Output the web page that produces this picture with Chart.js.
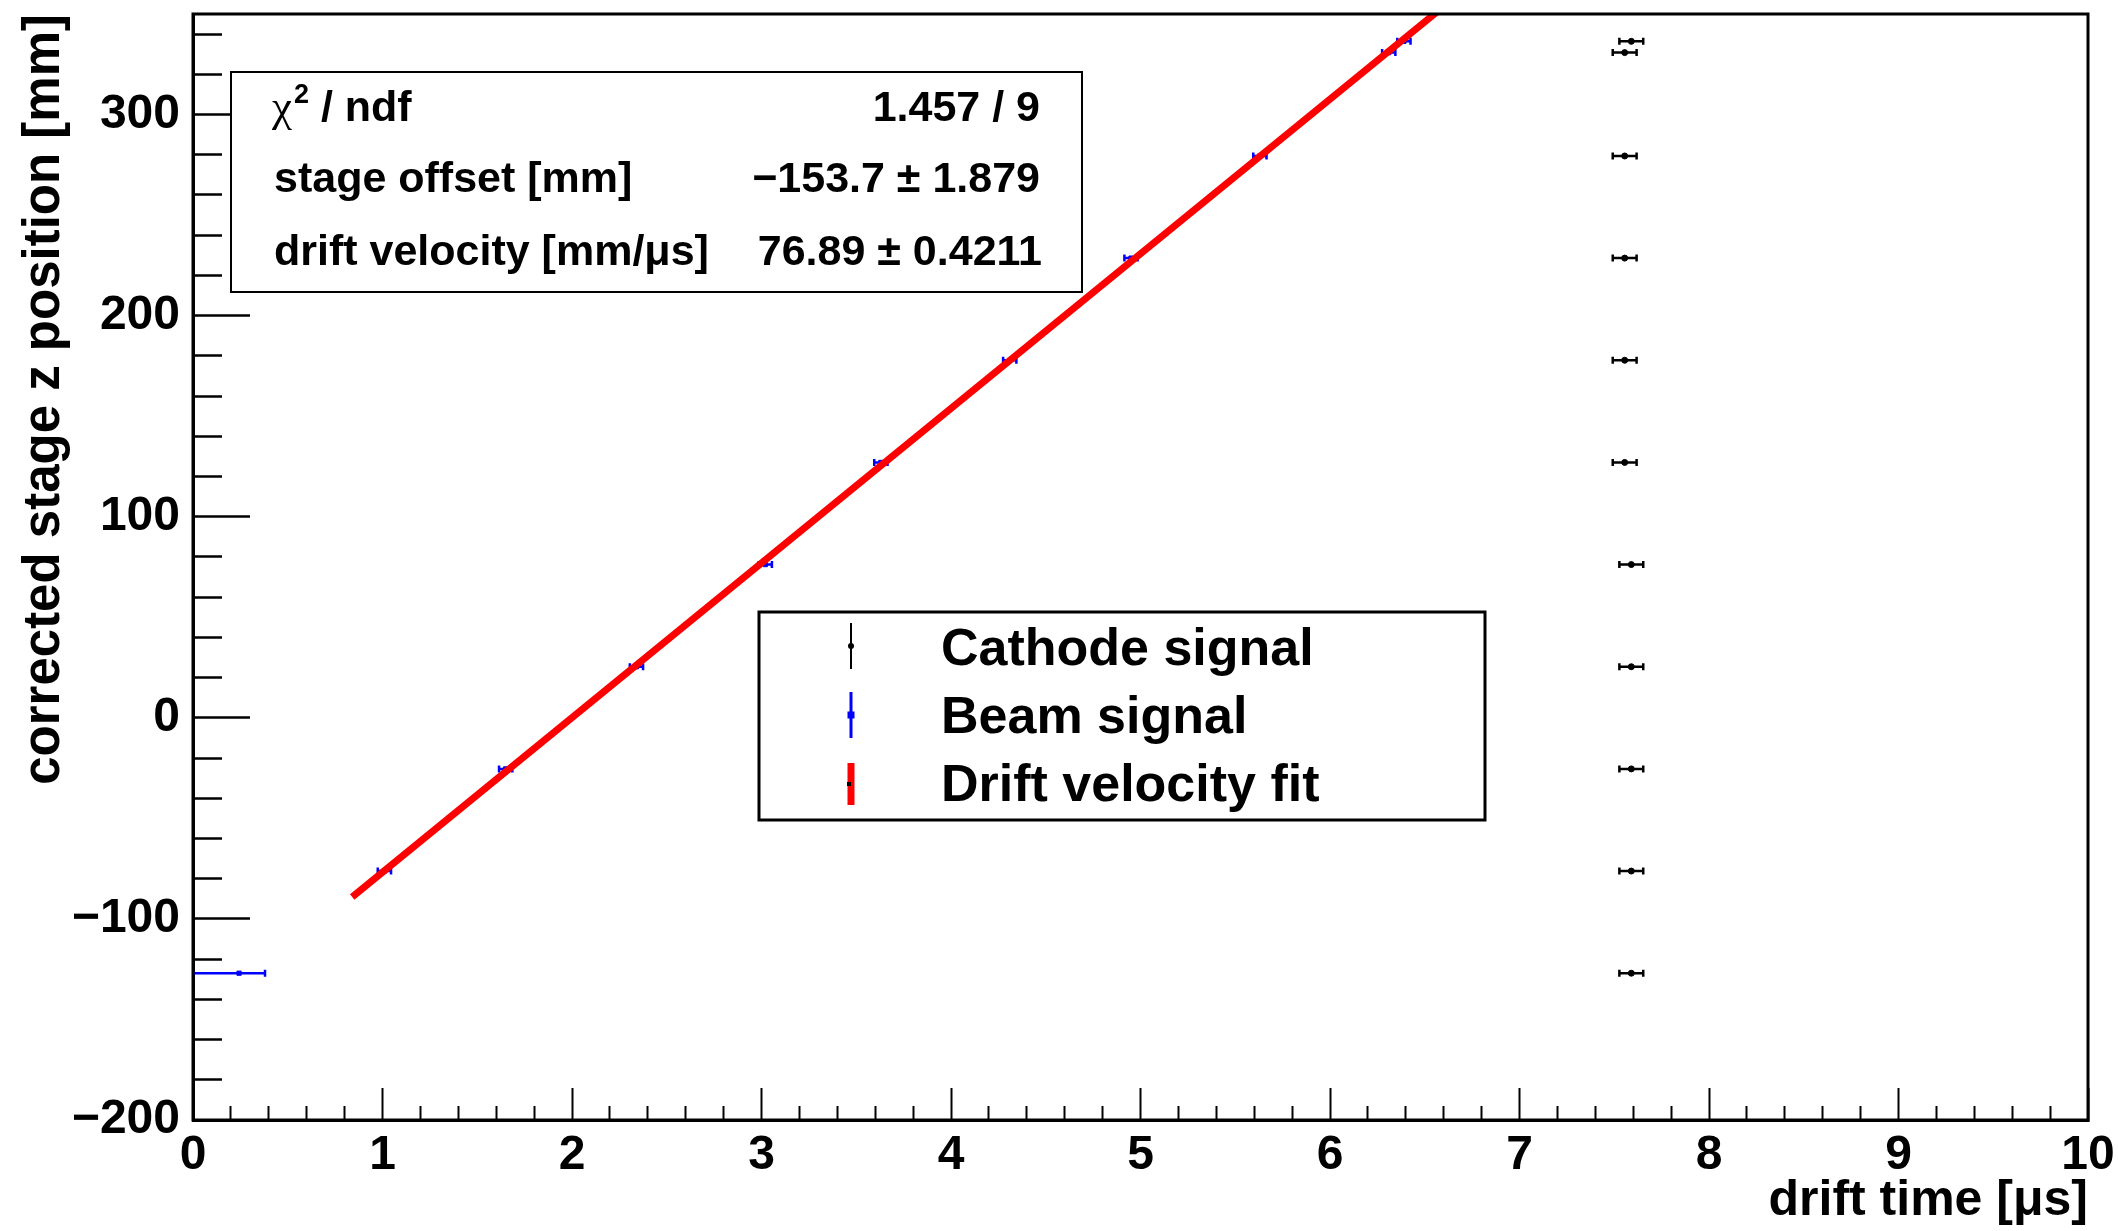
<!DOCTYPE html>
<html>
<head>
<meta charset="utf-8">
<title>Drift velocity</title>
<script src="https://cdn.jsdelivr.net/npm/chart.js@4.4.1/dist/chart.umd.min.js"></script>
<style>
  html, body { margin: 0; padding: 0; background: #fff; }
</style>
</head>
<body>
<canvas id="driftChart" width="2118" height="1231"></canvas>
<script>
// Stage positions of the scan [mm] (same for both signals)
const stagePos = [-127.0, -76.2, -25.4, 25.4, 76.2, 127.0, 177.8, 228.6, 279.4, 330.8, 336.4];
const stagePosErr = [0.5, 0.5, 0.5, 0.5, 0.5, 0.5, 0.5, 0.5, 0.5, 0.5, 0.5];

// Beam signal arrival times [us]
const beamTime = [0.243, 1.01, 1.65, 2.34, 3.02, 3.63, 4.31, 4.95, 5.63, 6.31, 6.39];
const beamTimeErrLo = [0.243, 0.035, 0.035, 0.035, 0.035, 0.035, 0.035, 0.035, 0.035, 0.035, 0.035];
const beamTimeErrHi = [0.137, 0.035, 0.035, 0.035, 0.035, 0.035, 0.035, 0.035, 0.035, 0.035, 0.035];

// Cathode signal arrival times [us]
const cathodeTime = [7.59, 7.59, 7.59, 7.59, 7.59, 7.555, 7.555, 7.555, 7.555, 7.555, 7.59];
const cathodeTimeErr = [0.063, 0.063, 0.063, 0.063, 0.063, 0.063, 0.063, 0.063, 0.063, 0.063, 0.063];

// Linear fit result
const fitRange = [0.84, 6.58];
const stageOffset = -153.7;
const stageOffsetErr = 1.879;
const driftVelocity = 76.89;
const driftVelocityErr = 0.4211;
const chi2 = 1.457;
const ndf = 9;

// Axis ticks
const xTickValues = [];
for (let k = 0; k <= 50; k++) xTickValues.push(k / 5);
const yTickValues = [];
for (let k = -10; k <= 17; k++) yTickValues.push(k * 20);

const isXMajor = v => Math.abs(v - Math.round(v)) < 1e-6;
const isYMajor = v => Math.abs(v % 100) < 1e-6;
const minus = s => s.replace('-', '\u2212');

Chart.defaults.font.family = "'Liberation Sans', Arial, sans-serif";
Chart.defaults.font.weight = 'bold';
Chart.defaults.color = '#000';

// horizontal / vertical error bars with small end caps
const errorBars = {
    id: 'errorBars',
    beforeDatasetsDraw(chart) {
        const { ctx, chartArea: a, scales: { x, y } } = chart;
        ctx.save();
        ctx.beginPath();
        ctx.rect(a.left, a.top, a.right - a.left, a.bottom - a.top);
        ctx.clip();
        chart.data.datasets.forEach(ds => {
            if (!ds.errors) return;
            ctx.strokeStyle = ds.borderColor;
            ctx.lineWidth = 2.5;
            ds.data.forEach((p, i) => {
                const e = ds.errors[i];
                const px = x.getPixelForValue(p.x);
                const py = y.getPixelForValue(p.y);
                const xl = x.getPixelForValue(p.x - e.xlo);
                const xh = x.getPixelForValue(p.x + e.xhi);
                const yl = y.getPixelForValue(p.y - e.y);
                const yh = y.getPixelForValue(p.y + e.y);
                ctx.beginPath();
                ctx.moveTo(xl, py); ctx.lineTo(xh, py);
                ctx.moveTo(px, yl); ctx.lineTo(px, yh);
                ctx.stroke();
                // caps
                ctx.beginPath();
                ctx.moveTo(xl, py - 3.5); ctx.lineTo(xl, py + 3.5);
                ctx.moveTo(xh, py - 3.5); ctx.lineTo(xh, py + 3.5);
                ctx.stroke();
            });
        });
        ctx.restore();
    }
};

// frame, fit statistics box and legend
const overlay = {
    id: 'overlay',
    afterDraw(chart) {
        const { ctx, chartArea: a } = chart;
        ctx.save();
        ctx.strokeStyle = '#000';
        ctx.lineWidth = 3;
        ctx.strokeRect(a.left, a.top, a.right - a.left, a.bottom - a.top);

        // stats box
        ctx.fillStyle = '#fff';
        ctx.fillRect(231, 72, 851, 220);
        ctx.lineWidth = 2;
        ctx.strokeRect(231, 72, 851, 220);
        ctx.fillStyle = '#000';
        ctx.textBaseline = 'alphabetic';
        const sans = "bold 43px 'Liberation Sans', Arial, sans-serif";
        const rows = [121, 192, 265];
        ctx.textAlign = 'left';
        ctx.font = "45px 'Liberation Serif', serif";
        ctx.fillText('\u03c7', 272, rows[0]);
        let w = ctx.measureText('\u03c7').width;
        ctx.font = "bold 27px 'Liberation Sans', Arial, sans-serif";
        ctx.fillText('2', 274 + w, rows[0] - 18);
        w += ctx.measureText('2').width;
        ctx.font = sans;
        ctx.fillText(' / ndf', 274 + w, rows[0]);
        ctx.fillText('stage offset [mm]', 274, rows[1]);
        ctx.fillText('drift velocity [mm/\u03bcs]', 274, rows[2]);
        ctx.textAlign = 'right';
        ctx.fillText(chi2.toFixed(3) + ' / ' + ndf, 1040, rows[0]);
        ctx.fillText(minus(stageOffset.toFixed(1)) + ' \u00b1 ' + stageOffsetErr.toFixed(3), 1040, rows[1]);
        ctx.fillText(driftVelocity.toFixed(2) + ' \u00b1 ' + driftVelocityErr.toFixed(4), 1042, rows[2]);

        // legend
        ctx.fillStyle = '#fff';
        ctx.fillRect(759, 612, 726, 208);
        ctx.lineWidth = 3;
        ctx.strokeRect(759, 612, 726, 208);
        const ds = chart.data.datasets;
        const mx = 851;
        // cathode marker
        ctx.strokeStyle = '#000';
        ctx.lineWidth = 2;
        ctx.beginPath(); ctx.moveTo(mx, 623); ctx.lineTo(mx, 669); ctx.stroke();
        ctx.fillStyle = '#000';
        ctx.beginPath(); ctx.arc(mx, 646, 3, 0, Math.PI * 2); ctx.fill();
        // beam marker
        ctx.strokeStyle = '#0000ff';
        ctx.lineWidth = 3;
        ctx.beginPath(); ctx.moveTo(mx, 692); ctx.lineTo(mx, 738); ctx.stroke();
        ctx.fillStyle = '#0000ff';
        ctx.fillRect(mx - 3.5, 711.5, 7, 7);
        // fit marker
        ctx.strokeStyle = '#ff0000';
        ctx.lineWidth = 7;
        ctx.beginPath(); ctx.moveTo(mx, 763); ctx.lineTo(mx, 805); ctx.stroke();
        ctx.fillStyle = '#000';
        ctx.fillRect(mx - 4, 782, 4, 4);

        ctx.fillStyle = '#000';
        ctx.textAlign = 'left';
        ctx.font = "bold 52px 'Liberation Sans', Arial, sans-serif";
        ctx.fillText(ds[0].label, 941, 665);
        ctx.fillText(ds[1].label, 941, 733);
        ctx.fillText(ds[2].label, 941, 801);
        ctx.restore();
    }
};

const cathodePoints = cathodeTime.map((t, i) => ({ x: t, y: stagePos[i] }));
const beamPoints = beamTime.map((t, i) => ({ x: t, y: stagePos[i] }));
const fitPoints = fitRange.map(t => ({ x: t, y: stageOffset + driftVelocity * t }));

const ctx = document.getElementById('driftChart').getContext('2d');
const driftChart = new Chart(ctx, {
    type: 'scatter',
    data: {
        datasets: [
            {
                label: 'Cathode signal',
                data: cathodePoints,
                errors: cathodeTime.map((t, i) => ({ xlo: cathodeTimeErr[i], xhi: cathodeTimeErr[i], y: stagePosErr[i] })),
                borderColor: '#000000',
                backgroundColor: '#000000',
                pointRadius: 3,
                order: 2
            },
            {
                label: 'Beam signal',
                data: beamPoints,
                errors: beamTime.map((t, i) => ({ xlo: beamTimeErrLo[i], xhi: beamTimeErrHi[i], y: stagePosErr[i] })),
                borderColor: '#0000ff',
                backgroundColor: '#0000ff',
                pointStyle: 'rect',
                pointRadius: 3,
                order: 1
            },
            {
                label: 'Drift velocity fit',
                data: fitPoints,
                showLine: true,
                borderColor: '#ff0000',
                backgroundColor: '#ff0000',
                borderWidth: 7,
                pointRadius: 0,
                clip: 0,
                order: 0
            }
        ]
    },
    options: {
        responsive: false,
        animation: false,
        events: [],
        layout: { padding: { top: 14, right: 30, left: 0, bottom: 0 } },
        plugins: {
            legend: { display: false },
            tooltip: { enabled: false }
        },
        scales: {
            x: {
                type: 'linear',
                min: 0,
                max: 10,
                afterBuildTicks: s => { s.ticks = xTickValues.map(v => ({ value: v })); },
                afterFit: s => {
                    s.height = 111;
                    s.paddingLeft = 0;
                    s.paddingRight = 0;
                },
                border: { display: true, color: '#000', width: 3 },
                grid: {
                    drawOnChartArea: false,
                    drawTicks: true,
                    tickLength: -32,
                    tickColor: '#000',
                    tickWidth: 2,
                    tickBorderDash: c => (c.tick && isXMajor(c.tick.value)) ? [] : [16, 100]
                },
                ticks: {
                    autoSkip: false,
                    maxRotation: 0,
                    padding: 39,
                    font: { size: 48, weight: 'bold' },
                    callback: v => isXMajor(v) ? String(Math.round(v)) : ''
                },
                title: {
                    display: true,
                    text: 'drift time [\u03bcs]',
                    align: 'end',
                    font: { size: 50, weight: 'bold' },
                    padding: { top: 0, bottom: 0 }
                }
            },
            y: {
                type: 'linear',
                min: -200,
                max: 350,
                afterBuildTicks: s => { s.ticks = yTickValues.map(v => ({ value: v })); },
                afterFit: s => {
                    s.width = 193;
                    s.paddingTop = 0;
                    s.paddingBottom = 0;
                },
                border: { display: true, color: '#000', width: 3 },
                grid: {
                    drawOnChartArea: false,
                    drawTicks: true,
                    tickLength: -57,
                    tickColor: '#000',
                    tickWidth: 2.5,
                    tickBorderDash: c => (c.tick && isYMajor(c.tick.value)) ? [] : [29, 28],
                    tickBorderDashOffset: c => (c.tick && isYMajor(c.tick.value)) ? 0 : 29
                },
                ticks: {
                    autoSkip: false,
                    padding: 70,
                    font: { size: 48, weight: 'bold' },
                    callback: v => isYMajor(v) ? minus(String(v)) : ''
                },
                title: {
                    display: true,
                    text: 'corrected stage z position [mm]',
                    align: 'end',
                    font: { size: 51, weight: 'bold' },
                    padding: { top: 14, bottom: 0 }
                }
            }
        }
    },
    plugins: [errorBars, overlay]
});
</script>
</body>
</html>
